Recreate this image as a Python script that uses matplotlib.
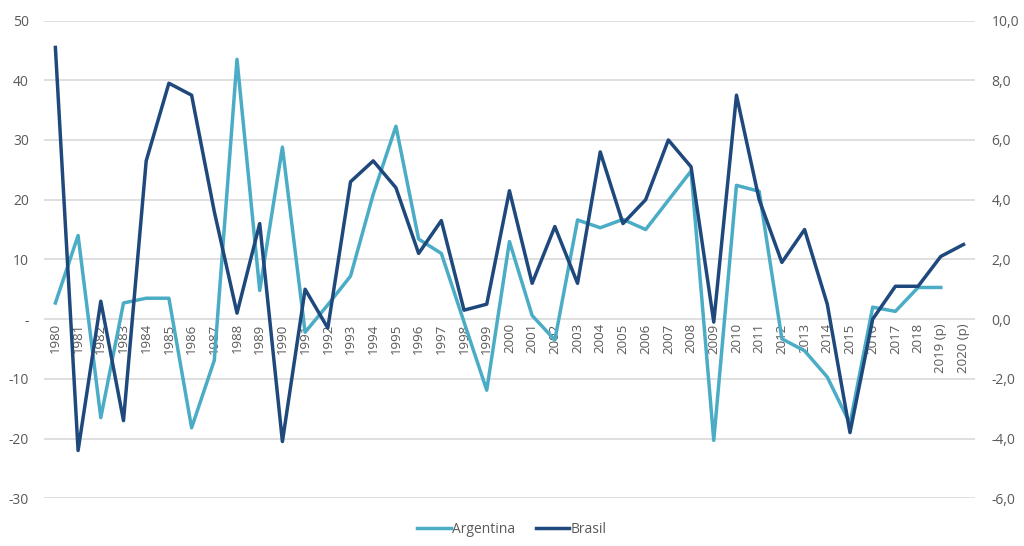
import matplotlib.pyplot as plt
from matplotlib.ticker import FuncFormatter

anos = [str(a) for a in range(1980, 2019)] + ["2019 (p)", "2020 (p)"]

argentina = [2.7, 14.0, -16.5, 2.7, 3.5, 3.5, -18.2, -6.9, 43.5, 4.8,
             28.8, -2.2, 2.4, 7.2, 20.9, 32.3, 13.4, 11.0, -0.5, -11.9,
             13.0, 0.6, -3.5, 16.6, 15.3, 16.7, 15.0, 19.9, 24.8, -20.3,
             22.4, 21.4, -3.3, -5.3, -9.7, -17.5, 2.0, 1.3, 5.3, 5.3, None]

brasil = [9.1, -4.4, 0.6, -3.4, 5.3, 7.9, 7.5, 3.6, 0.2, 3.2,
          -4.1, 1.0, -0.3, 4.6, 5.3, 4.4, 2.2, 3.3, 0.3, 0.5,
          4.3, 1.2, 3.1, 1.2, 5.6, 3.2, 4.0, 6.0, 5.1, -0.1,
          7.5, 4.0, 1.9, 3.0, 0.5, -3.8, 0.0, 1.1, 1.1, 2.1, 2.5]

cor_arg = "#4BACC6"
cor_bra = "#1F497D"
cinza = "#595959"

plt.rcParams['font.family'] = ['Open Sans', 'DejaVu Sans']

fig = plt.figure(figsize=(10.24, 5.46), dpi=100)
ax = fig.add_axes([0.043, 0.0874, 0.909, 0.875])
ax2 = ax.twinx()

x = list(range(len(anos)))
arg_x = [i for i, v in zip(x, argentina) if v is not None]
arg_y = [v for v in argentina if v is not None]

l1, = ax.plot(arg_x, arg_y, color=cor_arg, lw=2.5, solid_joinstyle='round', label="Argentina")
l2, = ax2.plot(x, brasil, color=cor_bra, lw=2.5, solid_joinstyle='round', label="Brasil")

ax.set_ylim(-30, 50)
ax2.set_ylim(-6, 10)
ax.set_xlim(-0.5, len(anos) - 0.5)
ax.set_yticks(range(-30, 51, 10))
ax2.set_yticks(range(-6, 11, 2))
ax.yaxis.set_major_formatter(FuncFormatter(lambda v, p: "-" if v == 0 else f"{v:.0f}"))
ax2.yaxis.set_major_formatter(FuncFormatter(lambda v, p: f"{v:.1f}".replace(".", ",")))

ax.grid(axis='y', color="#d9d9d9", lw=1.2)
ax.set_axisbelow(True)

for a in (ax, ax2):
    for s in a.spines.values():
        s.set_visible(False)
    a.tick_params(length=0, colors=cinza, labelsize=10)

ax.spines['bottom'].set_position(('data', 0))
ax.set_xticks(x)
ax.set_xticklabels(anos, rotation=90, va='top', fontsize=9.5)
ax.tick_params(axis='x', pad=3)
ax.tick_params(axis='y', pad=11)
ax2.tick_params(axis='y', pad=12)

fig.legend([l1, l2], ["Argentina", "Brasil"], loc='center', bbox_to_anchor=(0.5, 0.03),
           ncol=2, frameon=False, fontsize=10, handlelength=2.4, columnspacing=1.5,
           handletextpad=0.1, labelcolor=cinza)

fig.savefig("out.png", dpi=100)
